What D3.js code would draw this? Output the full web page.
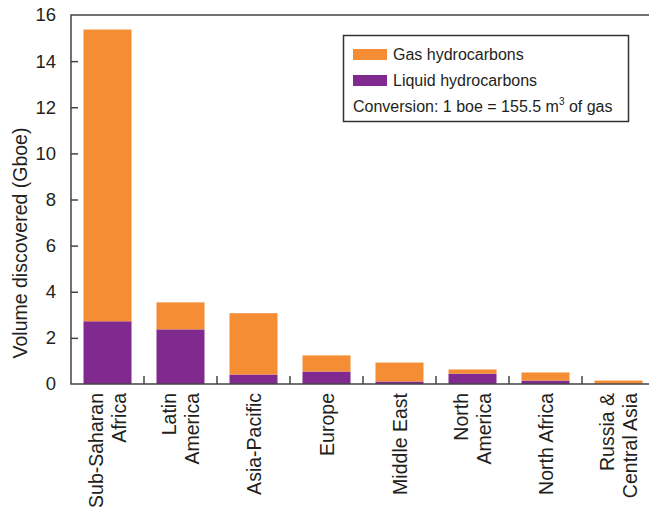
<!DOCTYPE html>
<html>
<head>
<meta charset="utf-8">
<script src="https://cdn.jsdelivr.net/npm/d3@7"></script>
<style>
  body { margin: 0; background: #fff; }
  text { font-family: "Liberation Sans", Arial, Helvetica, sans-serif; fill: #231f20; }
</style>
</head>
<body>
<script>
// data (Gboe)
var regions = [["Sub-Saharan", "Africa"], ["Latin", "America"], ["Asia-Pacific"], ["Europe"],
               ["Middle East"], ["North", "America"], ["North Africa"], ["Russia &", "Central Asia"]];
var liquid = [2.72, 2.37, 0.41, 0.54, 0.11, 0.45, 0.15, 0.01];
var gas    = [12.65, 1.17, 2.66, 0.70, 0.82, 0.18, 0.35, 0.14];
var yTicks = [0, 2, 4, 6, 8, 10, 12, 14, 16];

var orange = '#f58d34', purple = '#80298e', axisCol = '#444';

var keys = regions.map(function(r){ return r.join(' '); });
var data = keys.map(function(k, i){
  return { key: k, liquid: liquid[i], gas: gas[i] };
});

var svg = d3.select('body')
  .append('svg')
  .attr('width', 649)
  .attr('height', 513);

var plotLeft = 71, plotTop = 15, plotBottom = 384;

var p = 25 / 73;
var x = d3.scaleBand()
  .domain(keys)
  .range([plotLeft, plotLeft + 73 * 8])
  .paddingInner(p)
  .paddingOuter(p / 2);

var y = d3.scaleLinear()
  .domain([0, 16])
  .range([plotBottom, plotTop]);

var stack = d3.stack().keys(['liquid', 'gas'])(data);
var colors = { liquid: purple, gas: orange };

svg.selectAll('g.layer')
  .data(stack)
  .enter()
  .append('g')
  .attr('class', 'layer')
  .attr('fill', function(d){ return colors[d.key]; })
  .selectAll('rect')
  .data(function(d){ return d; })
  .enter()
  .append('rect')
  .attr('x', function(d){ return x(d.data.key); })
  .attr('width', x.bandwidth())
  .attr('y', function(d){ return y(d[1]); })
  .attr('height', function(d){ return y(d[0]) - y(d[1]); });

// y axis
var yAxis = d3.axisLeft(y)
  .tickValues(yTicks)
  .tickSize(-7)
  .tickPadding(15);

var gy = svg.append('g')
  .attr('transform', 'translate(' + plotLeft + ',0)')
  .call(yAxis);
gy.select('.domain').remove();
gy.selectAll('.tick line').attr('stroke', axisCol).attr('stroke-width', 1.5);
gy.selectAll('.tick text')
  .style('font-size', '18.5px')
  .attr('fill', '#231f20');
gy.selectAll('.tick').filter(function(d){ return d === 0 || d === 16; }).select('line').remove();

// frame lines: left, top, bottom
svg.append('path')
  .attr('d', 'M649,' + plotTop + 'H' + plotLeft + 'V' + plotBottom + 'H649')
  .attr('fill', 'none')
  .attr('stroke', axisCol)
  .attr('stroke-width', 1.5);

// x ticks between bands, pointing up
var step = x.step();
svg.selectAll('line.xtick')
  .data(keys.slice(1))
  .enter()
  .append('line')
  .attr('class', 'xtick')
  .attr('x1', function(d){ return x(d) - step * p / 2; })
  .attr('x2', function(d){ return x(d) - step * p / 2; })
  .attr('y1', plotBottom)
  .attr('y2', plotBottom - 8)
  .attr('stroke', axisCol)
  .attr('stroke-width', 1.5);

// x labels, rotated
var lineH = 23;
var xl = svg.selectAll('text.xlab')
  .data(regions)
  .enter()
  .append('text')
  .attr('class', 'xlab')
  .attr('transform', function(d, i){
    return 'translate(' + (x(keys[i]) + x.bandwidth() / 2) + ',' + (plotBottom + 9) + ') rotate(-90)';
  })
  .attr('text-anchor', 'end')
  .style('font-size', '19.5px');

xl.selectAll('tspan')
  .data(function(d){
    return d.map(function(s, j){ return { s: s, off: (j - (d.length - 1) / 2) * lineH }; });
  })
  .enter()
  .append('tspan')
  .attr('x', 0)
  .attr('y', function(d){ return d.off; })
  .attr('dy', '0.36em')
  .text(function(d){ return d.s; });

// y title
svg.append('text')
  .attr('transform', 'translate(27,243) rotate(-90)')
  .attr('text-anchor', 'middle')
  .style('font-size', '19.5px')
  .text('Volume discovered (Gboe)');

// legend
var lg = svg.append('g');
lg.append('rect')
  .attr('x', 343.5).attr('y', 35.5)
  .attr('width', 285).attr('height', 86)
  .attr('fill', '#fff')
  .attr('stroke', '#333')
  .attr('stroke-width', 1.5);

var legendItems = [['Gas hydrocarbons', orange], ['Liquid hydrocarbons', purple]];
legendItems.forEach(function(it, i){
  lg.append('rect')
    .attr('x', 353).attr('y', 49 + i * 26)
    .attr('width', 34).attr('height', 11)
    .attr('fill', it[1]);
  lg.append('text')
    .attr('x', 393).attr('y', 60 + i * 26)
    .style('font-size', '16px')
    .text(it[0]);
});

var conv = lg.append('text')
  .attr('x', 353).attr('y', 112)
  .style('font-size', '16px');
conv.append('tspan').text('Conversion: 1 boe = 155.5 m');
conv.append('tspan').attr('dy', -7).style('font-size', '10px').text('3');
conv.append('tspan').attr('dy', 7).text(' of gas');
</script>
</body>
</html>
